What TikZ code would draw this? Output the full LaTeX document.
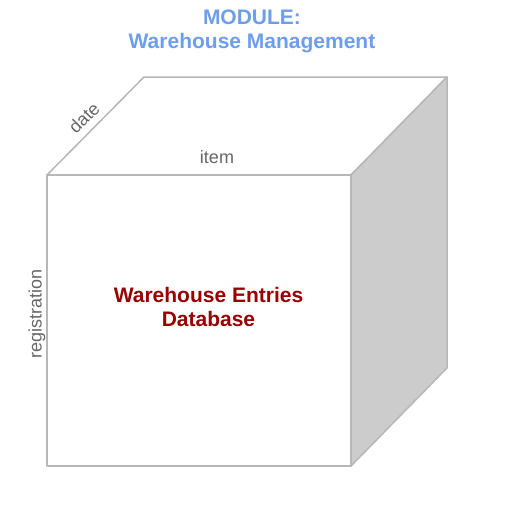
\documentclass[tikz,border=0pt]{standalone}
\usepackage{fontspec}
\setmainfont{Liberation Sans}
\usepackage{tikz}
\usetikzlibrary{positioning,calc}
\definecolor{ModBlue}{HTML}{6D9EEB}
\definecolor{DbRed}{HTML}{990000}
\definecolor{EdgeGray}{HTML}{B7B7B7}
\definecolor{SideGray}{HTML}{CCCCCC}
\definecolor{LabGray}{HTML}{666666}

\begin{document}
\begin{tikzpicture}[x=1pt,y=-1pt,edge/.style={draw=EdgeGray,line width=1.5pt,line join=round},
  axis/.style={text=LabGray,font=\fontsize{18}{20}\selectfont,inner sep=0pt},
  title/.style={text=ModBlue,font=\bfseries\fontsize{21}{24}\selectfont,align=center,inner sep=0pt}]
\useasboundingbox (0,0) rectangle (511,515);
% cube corners
\coordinate (fa) at (47,175);
\coordinate (fb) at (351,175);
\coordinate (fc) at (351,466);
\coordinate (fd) at (47,466);
\coordinate (ba) at (144,77);
\coordinate (bb) at (447,77);
\coordinate (bc) at (447,368);
\draw[edge,fill=white] (fa)--(ba)--(bb)--(fb)--cycle;
\draw[edge,fill=SideGray] (fb)--(bb)--(bc)--(fc)--cycle;
\draw[edge,fill=white] (fa) rectangle (fc);
% labels
\node[title] (mod) at (252,31) {MODULE:\\Warehouse Management};
\node[axis,rotate=45] (date) at (84,118) {date};
\node[axis] (item) at (217,157) {item};
\node[axis,rotate=90] (reg) at (37,314) {registration};
\node[text=DbRed,font=\bfseries\fontsize{21}{24}\selectfont,align=center,inner sep=0pt] (db) at (208.5,307) {Warehouse Entries\\Database};
\end{tikzpicture}
\end{document}
